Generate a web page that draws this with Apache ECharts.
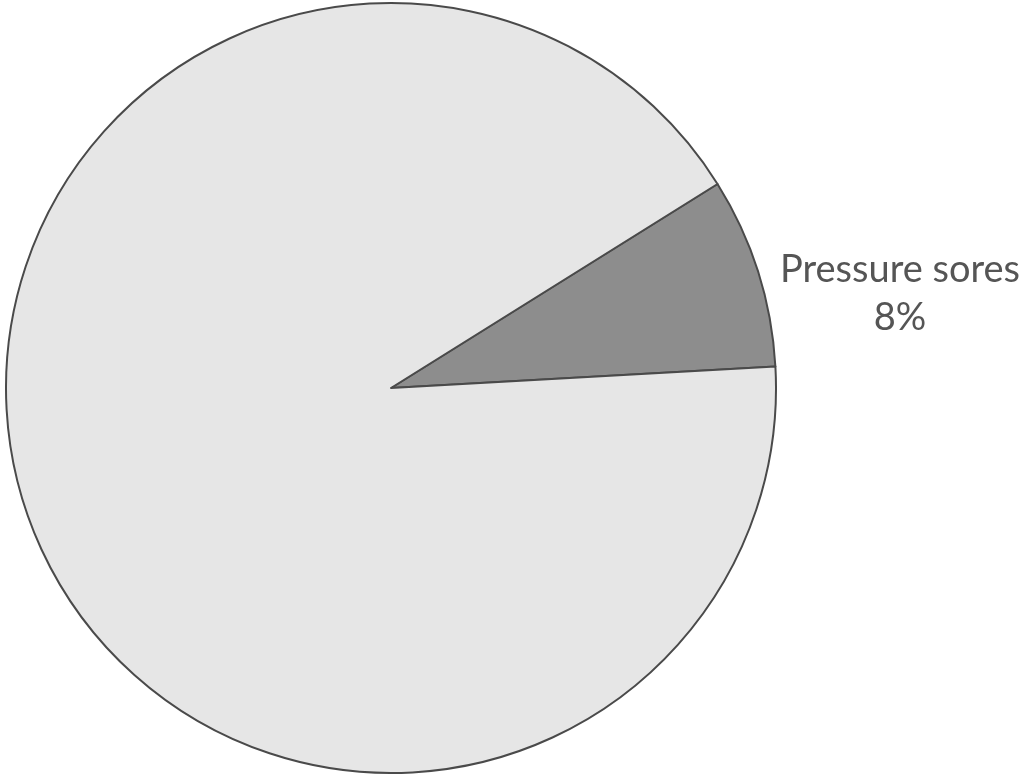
<!DOCTYPE html>
<html>
<head>
<meta charset="utf-8">
<script src="https://cdn.jsdelivr.net/npm/echarts@6/dist/echarts.min.js"></script>
<style>
	html, body { margin: 0; padding: 0; background: #fff; }
	#chart { width: 1024px; height: 778px; }
</style>
</head>
<body>
<div id="chart"></div>
<script>
// 数据
var categories = ["Pressure sores", "Other"];
var values = [8, 92];
var sliceColors = ["#8d8d8d", "#e6e6e6"];

(function () {
	var myChart = echarts.init(document.getElementById("chart"));
	var data = categories.map(function (name, i) {
		return {
			name: name,
			value: values[i],
			itemStyle: { color: sliceColors[i] },
			// 只显示第一块的标签
			label: { show: i === 0 }
		};
	});
	var option = {
		backgroundColor: "#fff",
		animation: false,
		series: [
			{
				type: "pie",
				center: [391, 388],
				radius: [0, 385],
				startAngle: 32,
				clockwise: true,
				itemStyle: {
					borderColor: "#4a4a4a",
					borderWidth: 2
				},
				label: {
					position: "inside",
					formatter: "{b}\n{c}%",
					fontFamily: "Lato",
					fontSize: 38,
					color: "#555",
					align: "center",
					lineHeight: 48
				},
				labelLine: { show: false },
				// 标签放在扇形右侧
				labelLayout: {
					x: 900,
					y: 294,
					align: "center",
					verticalAlign: "middle"
				},
				emphasis: { disabled: true },
				data: data
			}
		]
	};
	myChart.setOption(option);
	window.addEventListener("resize", function () {
		myChart.resize();
	});
})();
</script>
</body>
</html>
